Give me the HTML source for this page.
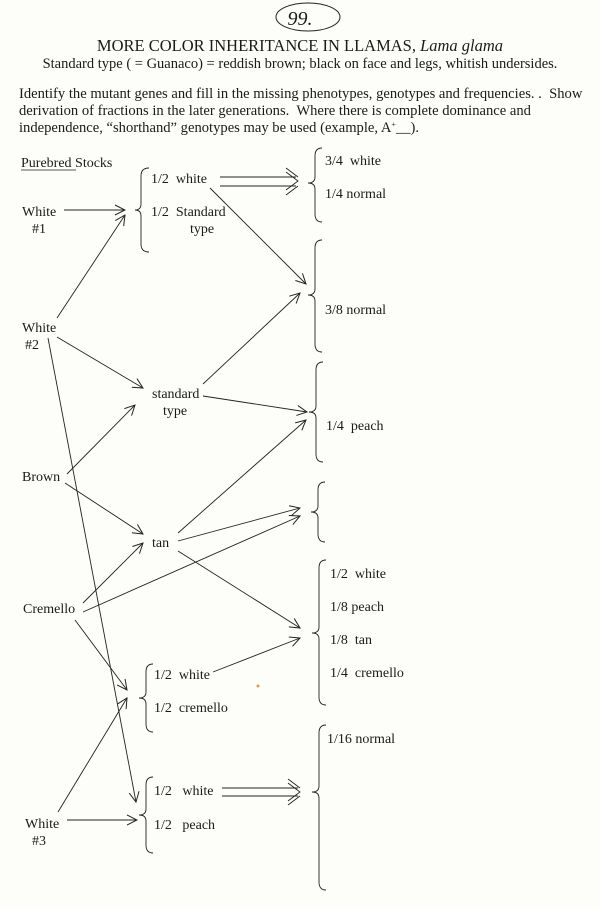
<!DOCTYPE html>
<html><head><meta charset="utf-8"><style>
body{margin:0;background:#fdfdf9;}
svg{display:block;font-family:"Liberation Serif",serif;}
text{white-space:pre;}
</style></head><body>
<svg width="600" height="907" viewBox="0 0 600 907" xmlns="http://www.w3.org/2000/svg">
<rect width="600" height="907" fill="#fdfdf9"/>
<g fill="#1a1a1a">
<ellipse cx="308" cy="17" rx="32" ry="14" fill="none" stroke="#222" stroke-width="1"/>
<text x="300" y="25" font-size="20" font-style="italic" text-anchor="middle">99.</text>
<text x="300" y="51" font-size="16.5" text-anchor="middle">MORE COLOR INHERITANCE IN LLAMAS, <tspan font-style="italic">Lama glama</tspan></text>
<text x="300" y="68" font-size="14.5" text-anchor="middle">Standard type ( = Guanaco) = reddish brown; black on face and legs, whitish undersides.</text>
<text x="19" y="98" font-size="14.6">Identify the mutant genes and fill in the missing phenotypes, genotypes and frequencies. .  Show</text>
<text x="19" y="115" font-size="14.6">derivation of fractions in the later generations.  Where there is complete dominance and</text>
<text x="19" y="132" font-size="14.6">independence, “shorthand” genotypes may be used (example, A<tspan dy="-5" font-size="8">+</tspan><tspan dy="5">__).</tspan></text>
<g font-size="14">
<text x="21" y="167">Purebred Stocks</text>
<text x="22" y="216">White</text><text x="32" y="233">#1</text>
<text x="22" y="332">White</text><text x="25" y="349">#2</text>
<text x="22" y="481">Brown</text>
<text x="23" y="613">Cremello</text>
<text x="25" y="828">White</text><text x="32" y="845">#3</text>
<text x="151" y="183">1/2  white</text>
<text x="151" y="216">1/2  Standard</text><text x="190" y="233">type</text>
<text x="152" y="398">standard</text><text x="163" y="415">type</text>
<text x="152" y="547">tan</text>
<text x="154" y="679">1/2  white</text><text x="154" y="712">1/2  cremello</text>
<text x="154" y="795">1/2   white</text><text x="154" y="829">1/2   peach</text>
<text x="325" y="165">3/4  white</text><text x="325" y="198">1/4 normal</text>
<text x="325" y="314">3/8 normal</text>
<text x="326" y="430">1/4  peach</text>
<text x="330" y="578">1/2  white</text><text x="330" y="611">1/8 peach</text><text x="330" y="644">1/8  tan</text><text x="330" y="677">1/4  cremello</text>
<text x="327" y="743">1/16 normal</text>
</g>
<line x1="21" y1="170" x2="76" y2="170" stroke="#222" stroke-width="0.8"/>
</g>
<defs><marker id="a" markerWidth="12" markerHeight="12" refX="11" refY="6" orient="auto" markerUnits="userSpaceOnUse"><path d="M1,1 L11,6 L1,11" fill="none" stroke="#222" stroke-width="1"/></marker></defs>
<g stroke="#222" stroke-width="0.9" fill="none">
<path d="M149,168 Q141,168 141,176 L141,204 Q141,210 135,210 Q141,210 141,216 L141,244 Q141,252 149,252"/>
<path d="M322,148 Q315,148 315,156 L315,177 Q315,183 308,183 Q315,183 315,189 L315,214 Q315,222 322,222"/>
<path d="M322,240 Q315,240 315,248 L315,289 Q315,295 308,295 Q315,295 315,301 L315,344 Q315,352 322,352"/>
<path d="M323,362 Q316,362 316,370 L316,406 Q316,412 309,412 Q316,412 316,418 L316,454 Q316,462 323,462"/>
<path d="M325,482 Q318,482 318,490 L318,506 Q318,512 311,512 Q318,512 318,518 L318,534 Q318,542 325,542"/>
<path d="M326,560 Q319,560 319,568 L319,627 Q319,633 312,633 Q319,633 319,639 L319,697 Q319,705 326,705"/>
<path d="M153,664 Q146,664 146,672 L146,692 Q146,698 139,698 Q146,698 146,704 L146,724 Q146,732 153,732"/>
<path d="M153,777 Q146,777 146,785 L146,809 Q146,815 139,815 Q146,815 146,821 L146,845 Q146,853 153,853"/>
<path d="M326,725 Q319,725 319,733 L319,786 Q319,792 312,792 Q319,792 319,798 L319,882 Q319,890 326,890"/>
<g marker-end="url(#a)">
<line x1="64" y1="210" x2="125" y2="210"/>
<line x1="57" y1="318" x2="125" y2="215"/>
<line x1="210" y1="188" x2="306" y2="284"/>
<line x1="57" y1="337" x2="143" y2="388"/>
<line x1="67" y1="474" x2="135" y2="405"/>
<line x1="203" y1="384" x2="300" y2="293"/>
<line x1="203" y1="396" x2="307" y2="412"/>
<line x1="178" y1="533" x2="306" y2="420"/>
<line x1="65" y1="483" x2="143" y2="534"/>
<line x1="48" y1="338" x2="136" y2="802"/>
<line x1="178" y1="541" x2="300" y2="508"/>
<line x1="83" y1="612" x2="300" y2="516"/>
<line x1="83" y1="603" x2="143" y2="543"/>
<line x1="178" y1="551" x2="300" y2="628"/>
<line x1="75" y1="620" x2="127" y2="690"/>
<line x1="213" y1="672" x2="300" y2="638"/>
<line x1="58" y1="812" x2="127" y2="698"/>
<line x1="67" y1="820" x2="137" y2="820"/>
</g>
<line x1="220" y1="177" x2="296" y2="177"/><line x1="220" y1="186" x2="296" y2="186"/>
<path d="M286,172 L298,181 L286,190 M286,168 L298,177 M298,186 L286,195"/>
<line x1="222" y1="788" x2="298" y2="788"/><line x1="222" y1="796" x2="298" y2="796"/>
<path d="M288,783 L300,792 L288,801 M288,779 L300,788 M300,796 L288,805"/>
</g>
<circle cx="258" cy="686" r="1.5" fill="#e0a040"/>
</svg>
</body></html>
